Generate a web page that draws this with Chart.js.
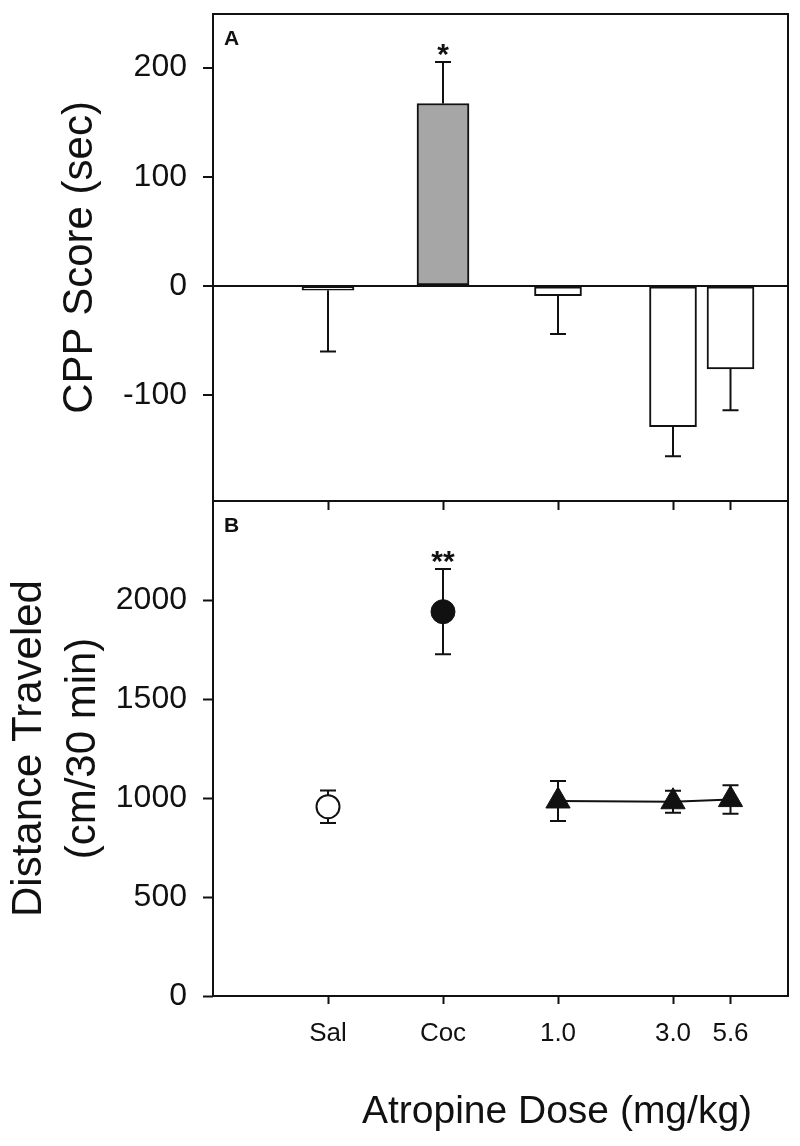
<!DOCTYPE html>
<html>
<head>
<meta charset="utf-8">
<title>Atropine CPP and distance traveled</title>
<script src="https://cdn.jsdelivr.net/npm/chart.js@4.4.1/dist/chart.umd.min.js"></script>
<style>
  html, body { margin: 0; padding: 0; background: #fff; }
  .fig { position: relative; width: 800px; height: 1146px; }
  .fig canvas { position: absolute; left: 0; top: 0; }
</style>
</head>
<body>
<div class="fig">
  <canvas id="cppChart" width="800" height="1146"></canvas>
  <canvas id="distChart" width="800" height="1146"></canvas>
</div>
<script>
// groups share one linear x axis (5.6 sits half a step after 3.0)
const groupLabels = ['Sal', 'Coc', '1.0', '3.0', '5.6'];
const groupX = [0, 1, 2, 3, 3.5];

// panel A: CPP score (sec), mean and SEM
const cppMean = [-4, 167, -9, -129, -76];
const cppSem = [56, 38, 35, 27, 38];
const cppSig = ['', '*', '', '', ''];
const cppTicks = [-100, 0, 100, 200];

// panel B: distance traveled (cm/30 min), mean and SEM
const distMean = [956, 1941, 985, 981, 992];
const distSem = [82, 215, 101, 56, 72];
const distSig = ['', '**', '', '', ''];
const distTicks = [0, 500, 1000, 1500, 2000];

const INK = '#111';
Chart.defaults.font.family = '"Liberation Sans", Arial, sans-serif';
Chart.defaults.color = INK;

const pts = (vals, from, to) => vals.slice(from, to).map((v, i) => ({ x: groupX[from + i], y: v }));
const noPad = s => { s.paddingLeft = s.paddingRight = s.paddingTop = s.paddingBottom = 0; };
const xLabel = v => { const i = groupX.indexOf(v); return i < 0 ? '' : groupLabels[i]; };

// SEM whiskers + significance stars, drawn through the y scale
const errorBars = {
  id: 'errorBars',
  beforeDatasetsDraw(chart, args, opts) {
    const { ctx } = chart;
    const ys = chart.scales.y;
    ctx.save();
    ctx.strokeStyle = INK;
    ctx.fillStyle = INK;
    ctx.lineWidth = 2;
    chart.data.datasets.forEach((ds, di) => {
      chart.getDatasetMeta(di).data.forEach((el, i) => {
        const v = ds.data[i].y, e = ds.errors[i];
        const lo = opts.oneSided ? v : v - e;
        const hi = opts.oneSided ? v + Math.sign(v) * e : v + e;
        const p0 = ys.getPixelForValue(lo), p1 = ys.getPixelForValue(hi);
        const x = el.x, half = opts.cap / 2;
        ctx.beginPath();
        ctx.moveTo(x, p0);
        ctx.lineTo(x, p1);
        ctx.moveTo(x - half, p1);
        ctx.lineTo(x + half, p1);
        if (!opts.oneSided) {
          ctx.moveTo(x - half, p0);
          ctx.lineTo(x + half, p0);
        }
        ctx.stroke();
        if (ds.sig[i]) {
          const top = ys.getPixelForValue(Math.max(lo, hi));
          ctx.font = 'bold 30px "Liberation Sans", Arial, sans-serif';
          ctx.textAlign = 'center';
          ctx.textBaseline = 'alphabetic';
          ctx.fillText(ds.sig[i], x, top + 2);
        }
      });
    });
    ctx.restore();
  }
};

// frame, panel letter and free-standing x title
const panelText = {
  id: 'panelText',
  afterDraw(chart, args, opts) {
    const { ctx, chartArea: a } = chart;
    ctx.save();
    ctx.strokeStyle = INK;
    ctx.lineWidth = 2;
    ctx.strokeRect(a.left, a.top, a.right - a.left, a.bottom - a.top);
    ctx.fillStyle = INK;
    ctx.textAlign = 'left';
    ctx.textBaseline = 'alphabetic';
    ctx.font = 'bold 21px "Liberation Sans", Arial, sans-serif';
    ctx.fillText(opts.letter, a.left + 11, a.top + 31);
    if (opts.xTitle) {
      ctx.font = '39px "Liberation Sans", Arial, sans-serif';
      ctx.textAlign = 'center';
      ctx.textBaseline = 'middle';
      ctx.fillText(opts.xTitle.text, opts.xTitle.x, opts.xTitle.y);
    }
    ctx.restore();
  }
};

const yTitleFont = { size: 42, lineHeight: 1.3 };

// ---- panel A ----
new Chart(document.getElementById('cppChart'), {
  type: 'bar',
  data: {
    datasets: [
      {
        label: 'Controls',
        data: pts(cppMean, 0, 2),
        errors: cppSem.slice(0, 2),
        sig: cppSig.slice(0, 2),
        backgroundColor: ['#ffffff', '#a6a6a6'],
        barThickness: 52
      },
      {
        label: 'Atropine',
        data: pts(cppMean, 2, 5),
        errors: cppSem.slice(2, 5),
        sig: cppSig.slice(2, 5),
        backgroundColor: '#ffffff',
        barThickness: 47
      }
    ]
  },
  options: {
    responsive: false,
    animation: false,
    layout: { autoPadding: false, padding: { top: 14, right: 12, bottom: 634, left: 0 } },
    datasets: { bar: { grouped: false, borderColor: INK, borderWidth: 2, borderSkipped: false } },
    scales: {
      x: {
        type: 'linear', min: -1, max: 4, offset: false,
        afterBuildTicks: s => { s.ticks = groupX.map(v => ({ value: v })); },
        afterFit: s => { s.height = 11; noPad(s); },
        grid: { offset: false, drawOnChartArea: false, tickLength: 9, tickWidth: 2, tickColor: INK },
        border: { display: false },
        ticks: { display: false }
      },
      y: {
        min: -197, max: 249,
        afterBuildTicks: s => { s.ticks = cppTicks.map(v => ({ value: v })); },
        afterFit: s => { s.width = 213; noPad(s); },
        grid: {
          color: c => (c.tick && c.tick.value === 0 ? INK : 'rgba(0,0,0,0)'),
          lineWidth: 2, tickLength: 10, tickWidth: 2, tickColor: INK
        },
        border: { display: false },
        ticks: { padding: 16, autoSkip: false, font: { size: 32 }, callback: v => String(v) },
        title: { display: true, text: 'CPP Score (sec)', font: yTitleFont, padding: { top: 53, bottom: 0 } }
      }
    },
    plugins: {
      legend: { display: false },
      tooltip: { enabled: false },
      errorBars: { oneSided: true, cap: 16 },
      panelText: { letter: 'A' }
    }
  },
  plugins: [errorBars, panelText]
});

// ---- panel B ----
new Chart(document.getElementById('distChart'), {
  type: 'scatter',
  data: {
    datasets: [
      {
        label: 'Saline',
        data: pts(distMean, 0, 1),
        errors: distSem.slice(0, 1),
        sig: distSig.slice(0, 1),
        pointRadius: 11.5,
        pointBackgroundColor: '#ffffff',
        pointBorderColor: INK,
        pointBorderWidth: 2,
        showLine: false
      },
      {
        label: 'Cocaine',
        data: pts(distMean, 1, 2),
        errors: distSem.slice(1, 2),
        sig: distSig.slice(1, 2),
        pointRadius: 12,
        pointBackgroundColor: INK,
        pointBorderColor: INK,
        pointBorderWidth: 1,
        showLine: false
      },
      {
        label: 'Atropine',
        data: pts(distMean, 2, 5),
        errors: distSem.slice(2, 5),
        sig: distSig.slice(2, 5),
        pointStyle: 'triangle',
        pointRadius: 14,
        pointBackgroundColor: INK,
        pointBorderColor: INK,
        pointBorderWidth: 1,
        showLine: true,
        borderColor: INK,
        borderWidth: 2
      }
    ]
  },
  options: {
    responsive: false,
    animation: false,
    layout: { autoPadding: false, padding: { top: 501, right: 12, bottom: 0, left: 0 } },
    scales: {
      x: {
        type: 'linear', min: -1, max: 4, offset: false,
        afterBuildTicks: s => { s.ticks = groupX.map(v => ({ value: v })); },
        afterFit: s => { s.height = 150; noPad(s); },
        grid: { offset: false, drawOnChartArea: false, tickLength: 8, tickWidth: 2, tickColor: INK },
        border: { display: false },
        ticks: { padding: 14, autoSkip: false, maxRotation: 0, font: { size: 26 }, callback: xLabel }
      },
      y: {
        min: 0, max: 2500,
        afterBuildTicks: s => { s.ticks = distTicks.map(v => ({ value: v })); },
        afterFit: s => { s.width = 213; noPad(s); },
        grid: { drawOnChartArea: false, tickLength: 10, tickWidth: 2, tickColor: INK },
        border: { display: false },
        ticks: { padding: 16, autoSkip: false, font: { size: 32 }, callback: v => String(v) },
        title: { display: true, text: ['Distance Traveled', '(cm/30 min)'], font: yTitleFont, padding: { top: 2, bottom: 0 } }
      }
    },
    plugins: {
      legend: { display: false },
      tooltip: { enabled: false },
      errorBars: { oneSided: false, cap: 16 },
      panelText: { letter: 'B', xTitle: { text: 'Atropine Dose (mg/kg)', x: 557, y: 1112 } }
    }
  },
  plugins: [errorBars, panelText]
});
</script>
</body>
</html>
